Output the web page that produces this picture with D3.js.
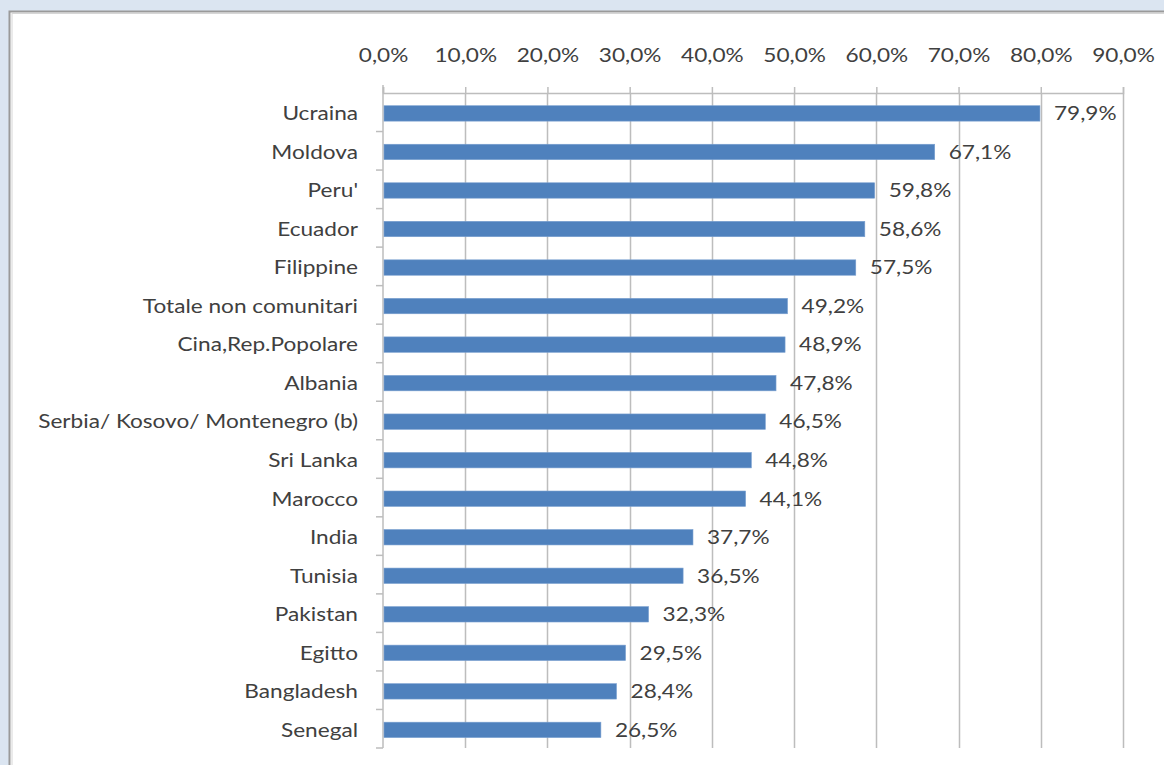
<!DOCTYPE html>
<html><head><meta charset="utf-8">
<script src="https://cdn.jsdelivr.net/npm/d3@7"></script>
<style>
html,body{margin:0;padding:0;background:#dbe5f1;}
svg{display:block;}
text{font-family:Lato,"Open Sans",sans-serif;fill:#404040;}
</style></head>
<body>
<svg id="chart" width="1164" height="765"></svg>
<script>
const categories = ["Ucraina","Moldova","Peru'","Ecuador","Filippine","Totale non comunitari","Cina,Rep.Popolare","Albania","Serbia/ Kosovo/ Montenegro (b)","Sri Lanka","Marocco","India","Tunisia","Pakistan","Egitto","Bangladesh","Senegal"];
const values = [79.9,67.1,59.8,58.6,57.5,49.2,48.9,47.8,46.5,44.8,44.1,37.7,36.5,32.3,29.5,28.4,26.5];
const tickValues = [0,10,20,30,40,50,60,70,80,90];

(function(){
const fmt = v => d3.format(".1f")(v).replace(".", ",") + "%";
const svg = d3.select("#chart");
const FS = 19.5, SX = 1.16;

// frame
svg.append("rect").attr("x",0).attr("y",0).attr("width",1164).attr("height",765).attr("fill","#dbe5f1");
svg.append("rect").attr("x",9.5).attr("y",11.5).attr("width",1170).attr("height",780)
  .attr("fill","#ffffff").attr("stroke","#9a9a9a").attr("stroke-width",2);
svg.append("line").attr("x1",12).attr("x2",1164).attr("y1",13.5).attr("y2",13.5).attr("stroke","#d6d6d6").attr("stroke-width",1);
svg.append("line").attr("x1",12).attr("x2",12).attr("y1",13).attr("y2",765).attr("stroke","#d6d6d6").attr("stroke-width",1);

const pl = 383, pr = 1123, pt = 93, pb = 748;
const x = d3.scaleLinear().domain([0,90]).range([pl,pr]);
const y = d3.scaleBand().domain(categories).range([pt,pb]).paddingInner(0.6).paddingOuter(0.3).align(0.55);
const yb = d3.scaleBand().domain(categories).range([pt,pb]);

// gridlines
svg.append("g").selectAll("line").data(tickValues.filter(d=>d>0)).join("line")
  .attr("x1",d=>Math.round(x(d))+0.5).attr("x2",d=>Math.round(x(d))+0.5)
  .attr("y1",pt).attr("y2",pb)
  .attr("stroke","#bdbdbd").attr("stroke-width",1.5);

// top axis
const xAxis = d3.axisTop(x).tickValues(tickValues).tickSize(6).tickPadding(25).tickFormat(fmt);
const gx = svg.append("g").attr("transform",`translate(0,${pt})`).call(xAxis);
gx.select(".domain").attr("stroke","#bdbdbd").attr("stroke-width",1.5);
gx.selectAll(".tick line").attr("stroke","#bdbdbd").attr("stroke-width",1.5);
gx.selectAll(".tick text").attr("font-size",FS).attr("font-family","Lato").attr("fill","#404040")
  .attr("transform",`scale(${SX},1)`);

// left axis
const gy = svg.append("g");
gy.append("line").attr("x1",pl).attr("x2",pl).attr("y1",pt-8).attr("y2",pb)
  .attr("stroke","#bdbdbd").attr("stroke-width",1.5);
const bounds = categories.map(c=>yb(c)).concat([pb]);
gy.selectAll("line.t").data(bounds.slice(1)).join("line").attr("class","t")
  .attr("x1",pl-7).attr("x2",pl).attr("y1",d=>d).attr("y2",d=>d)
  .attr("stroke","#bdbdbd").attr("stroke-width",1.5);
gy.selectAll("text").data(categories).join("text")
  .attr("transform",d=>`translate(${pl-25},${y(d)+y.bandwidth()/2}) scale(${SX},1)`)
  .attr("dy","0.35em").attr("text-anchor","end").attr("font-size",FS)
  .text(d=>d);

// bars
svg.append("g").selectAll("rect").data(values).join("rect")
  .attr("x",x(0)+1).attr("y",(d,i)=>y(categories[i]))
  .attr("width",d=>x(d)-x(0)-1).attr("height",y.bandwidth())
  .attr("fill","#4f81bd").attr("stroke","#7aa0d0").attr("stroke-width",0.6);

// value labels
svg.append("g").selectAll("text").data(values).join("text")
  .attr("transform",(d,i)=>`translate(${x(d)+14},${y(categories[i])+y.bandwidth()/2}) scale(${SX},1)`)
  .attr("dy","0.35em").attr("font-size",FS).text(d=>fmt(d));
})();
</script>
</body></html>
